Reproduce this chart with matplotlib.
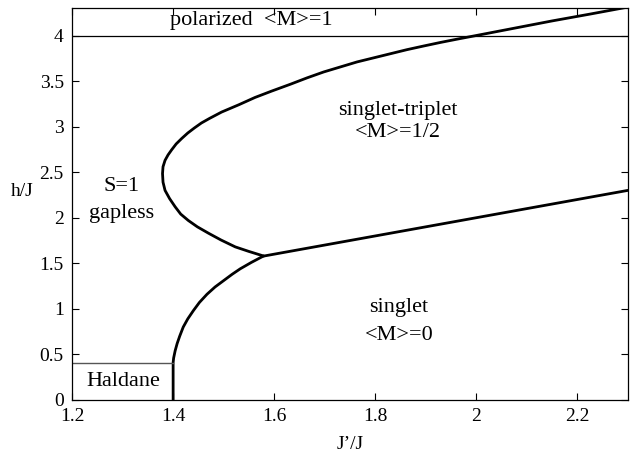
import matplotlib
matplotlib.use("Agg")
import matplotlib.pyplot as plt

plt.rcParams['font.family'] = ['Liberation Serif', 'DejaVu Serif']

# singlet / singlet-triplet boundary
low_x = [1.58, 1.80, 2.00, 2.15, 2.30]
low_h = [1.58, 1.80, 2.00, 2.15, 2.30]

# singlet-triplet / S=1 gapless boundary (re-entrant nose)
up_x = [1.579, 1.55, 1.523, 1.495, 1.47, 1.448, 1.430, 1.415, 1.404, 1.393,
        1.384, 1.380, 1.379, 1.380, 1.384, 1.390, 1.397, 1.406, 1.417, 1.429,
        1.442, 1.456, 1.472, 1.496, 1.53, 1.562, 1.595, 1.632, 1.665, 1.698,
        1.731, 1.764, 1.797, 1.830, 1.863, 1.896, 1.93, 1.962, 2.0, 2.075,
        2.15, 2.225, 2.298]
up_h = [1.58, 1.63, 1.68, 1.755, 1.83, 1.90, 1.97, 2.04, 2.12, 2.21,
        2.30, 2.39, 2.485, 2.56, 2.63, 2.69, 2.745, 2.81, 2.87, 2.93,
        2.985, 3.04, 3.09, 3.16, 3.24, 3.32, 3.39, 3.465, 3.535, 3.60,
        3.655, 3.71, 3.755, 3.80, 3.845, 3.885, 3.925, 3.96, 4.0, 4.08,
        4.16, 4.235, 4.31]

# Haldane / gapless boundary
hal_x = [1.40, 1.40, 1.401, 1.404, 1.408, 1.413, 1.42, 1.429, 1.44, 1.452,
         1.467, 1.483, 1.50, 1.517, 1.533, 1.555, 1.579]
hal_h = [0.0, 0.41, 0.46, 0.54, 0.62, 0.70, 0.80, 0.89, 0.98, 1.07,
         1.16, 1.24, 1.31, 1.38, 1.44, 1.51, 1.58]

# thin phase lines
haldane_gap = 0.41
saturation = 4.0

xticks = [1.2, 1.4, 1.6, 1.8, 2.0, 2.2]
xticklabels = ["1.2", "1.4", "1.6", "1.8", "2", "2.2"]
yticks = [0, 0.5, 1, 1.5, 2, 2.5, 3, 3.5, 4]
yticklabels = ["0", "0.5", "1", "1.5", "2", "2.5", "3", "3.5", "4"]

fig = plt.figure(figsize=(6.38, 4.55), dpi=100)
ax = fig.add_axes([0.113, 0.121, 0.871, 0.861])

lk = dict(color='black', lw=2, solid_joinstyle='round', solid_capstyle='round')
ax.plot(low_x, low_h, **lk)
ax.plot(up_x, up_h, **lk)
ax.plot(hal_x, hal_h, **lk)
ax.plot([1.2, 1.4], [haldane_gap, haldane_gap], color='#555555', lw=1)
ax.plot([1.2, 2.3], [saturation, saturation], color='black', lw=0.9)

ax.set_xlim(1.2, 2.3)
ax.set_ylim(0, 4.3)
ax.set_xticks(xticks)
ax.set_xticklabels(xticklabels)
ax.set_yticks(yticks)
ax.set_yticklabels(yticklabels)
ax.tick_params(direction='in', top=True, right=True, length=5, width=0.8,
               labelsize=14, pad=6)
for s in ax.spines.values():
    s.set_linewidth(0.9)

ax.set_xlabel("J\u2019/J", fontsize=14, labelpad=8)
ax.set_ylabel("h/J", fontsize=14, rotation=0, labelpad=18)
ax.yaxis.set_label_coords(-0.09, 0.51)

fs = 16
ax.text(1.554, 4.17, "polarized  <M>=1", fontsize=fs, ha='center', va='center')
ax.text(1.845, 3.18, "singlet-triplet", fontsize=fs, ha='center', va='center')
ax.text(1.845, 2.94, "<M>=1/2", fontsize=fs, ha='center', va='center')
ax.text(1.297, 2.34, "S=1", fontsize=fs, ha='center', va='center')
ax.text(1.297, 2.05, "gapless", fontsize=fs, ha='center', va='center')
ax.text(1.301, 0.20, "Haldane", fontsize=fs, ha='center', va='center')
ax.text(1.847, 1.02, "singlet", fontsize=fs, ha='center', va='center')
ax.text(1.847, 0.71, "<M>=0", fontsize=fs, ha='center', va='center')

fig.savefig("out.png", dpi=100)
